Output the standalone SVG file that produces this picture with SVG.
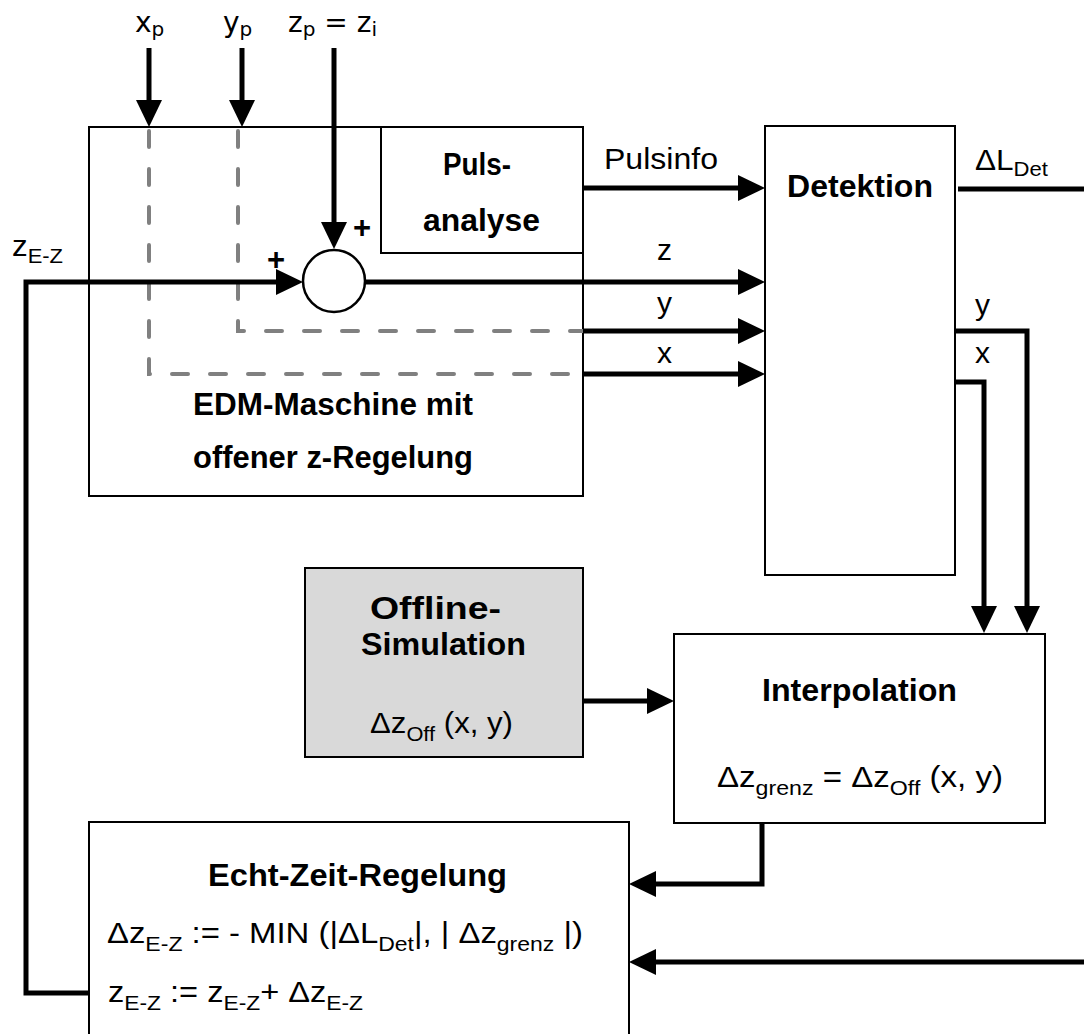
<svg xmlns="http://www.w3.org/2000/svg" width="1084" height="1034" viewBox="0 0 1084 1034">
<style>
.box{fill:#fff;stroke:#000;stroke-width:2}
.grey{fill:#d9d9d9;stroke:#000;stroke-width:2}
.w{fill:none;stroke:#000;stroke-width:5;stroke-linejoin:miter}
.a{marker-end:url(#ah)}
.d{fill:none;stroke:#808080;stroke-width:4;stroke-dasharray:16 22;stroke-linecap:round}
.b{font-family:"Liberation Sans",Arial,sans-serif;font-weight:bold;font-size:31px;fill:#000}
.r{font-family:"Liberation Sans",Arial,sans-serif;font-size:30px;fill:#000}
.t{font-family:"DejaVu Sans",sans-serif;font-size:28px;fill:#000}
</style>
<defs>
<marker id="ah" markerUnits="userSpaceOnUse" markerWidth="28" markerHeight="28" refX="21" refY="13" orient="auto">
<path d="M0,0 L27,13 L0,26 z" fill="#000"/>
</marker>
</defs>
<rect width="1084" height="1034" fill="#fff"/>

<g id="edm">
<rect class="box" x="89" y="127" width="494" height="369"/>
<text class="b" x="193" y="415" textLength="280" lengthAdjust="spacingAndGlyphs">EDM-Maschine mit</text>
<text class="b" x="193" y="468" textLength="280" lengthAdjust="spacingAndGlyphs">offener z-Regelung</text>
</g>
<g id="pulsanalyse">
<rect class="box" x="381" y="127" width="202" height="126"/>
<text class="b" x="443" y="175" textLength="68" lengthAdjust="spacingAndGlyphs">Puls-</text>
<text class="b" x="423" y="231" textLength="117" lengthAdjust="spacingAndGlyphs">analyse</text>
</g>
<g id="sum">
<circle cx="334" cy="281" r="31" fill="#fff" stroke="#000" stroke-width="2.5"/>
<text class="b" x="353" y="238" font-size="30">+</text>
<text class="b" x="267" y="270" font-size="30">+</text>
</g>
<g id="detektion">
<rect class="box" x="765" y="126" width="190" height="449"/>
<text class="b" x="787" y="197" font-size="32" textLength="146" lengthAdjust="spacingAndGlyphs">Detektion</text>
</g>
<g id="offline">
<rect class="grey" x="305" y="568" width="278" height="189"/>
<text class="b" x="370" y="619" textLength="131" lengthAdjust="spacingAndGlyphs">Offline-</text>
<text class="b" x="361" y="655" textLength="165" lengthAdjust="spacingAndGlyphs">Simulation</text>
<text class="r" x="370" y="733" textLength="143" lengthAdjust="spacingAndGlyphs">Δz<tspan font-size="21" dy="8">Off</tspan><tspan dy="-8"> (x, y)</tspan></text>
</g>
<g id="interpolation">
<rect class="box" x="674" y="634" width="371" height="189"/>
<text class="b" x="762" y="701" textLength="195" lengthAdjust="spacingAndGlyphs">Interpolation</text>
<text class="r" x="717" y="787" textLength="286" lengthAdjust="spacingAndGlyphs">Δz<tspan font-size="21" dy="8">grenz</tspan><tspan dy="-8"> =  Δz</tspan><tspan font-size="21" dy="8">Off</tspan><tspan dy="-8"> (x, y)</tspan></text>
</g>
<g id="echtzeit">
<rect class="box" x="89" y="822" width="540" height="240"/>
<text class="b" x="208" y="886" textLength="299" lengthAdjust="spacingAndGlyphs">Echt-Zeit-Regelung</text>
<text class="r" x="107" y="943" textLength="476" lengthAdjust="spacingAndGlyphs">Δz<tspan font-size="21" dy="8">E-Z</tspan><tspan dy="-8"> :=  - MIN (|ΔL</tspan><tspan font-size="21" dy="8">Det</tspan><tspan dy="-8">|, | Δz</tspan><tspan font-size="21" dy="8">grenz</tspan><tspan dy="-8"> |)</tspan></text>
<text class="r" x="108" y="1002" textLength="255" lengthAdjust="spacingAndGlyphs">z<tspan font-size="21" dy="8">E-Z</tspan><tspan dy="-8"> := z</tspan><tspan font-size="21" dy="8">E-Z</tspan><tspan dy="-8">+ Δz</tspan><tspan font-size="21" dy="8">E-Z</tspan></text>
</g>

<g id="connectors">
<path class="d" d="M149,131 V374 H583"/>
<path class="d" d="M238,131 V331 H583"/>
<path class="w a" d="M149,48 V121"/>
<path class="w a" d="M242,48 V121"/>
<path class="w a" d="M334,48 V243"/>
<path class="w a" d="M89,993 H26 V282 H297"/>
<path class="w a" d="M365,282 H759"/>
<path class="w a" d="M583,188 H759"/>
<path class="w a" d="M583,331 H759"/>
<path class="w a" d="M583,374 H759"/>
<path class="w" d="M958,189 H1084"/>
<path class="w a" d="M1084,962 H635"/>
<path class="w a" d="M955,331 H1027 V627"/>
<path class="w a" d="M955,382 H984 V627"/>
<path class="w a" d="M583,701 H668"/>
<path class="w a" d="M762,823 V884 H635"/>
</g>

<g id="labels">
<text class="t" x="135" y="32">x<tspan font-size="20" dy="4">p</tspan></text>
<text class="t" x="223" y="32">y<tspan font-size="20" dy="4">p</tspan></text>
<text class="t" x="288" y="32">z<tspan font-size="20" dy="4">p</tspan><tspan dy="-4"> = z</tspan><tspan font-size="20" dy="4">i</tspan></text>
<text class="r" x="12" y="256" textLength="51" lengthAdjust="spacingAndGlyphs">z<tspan font-size="21" dy="7">E-Z</tspan></text>
<text class="r" x="604" y="169" textLength="114" lengthAdjust="spacingAndGlyphs">Pulsinfo</text>
<text class="r" x="657" y="260">z</text>
<text class="r" x="657" y="313">y</text>
<text class="r" x="657" y="363">x</text>
<text class="r" x="975" y="170" textLength="73" lengthAdjust="spacingAndGlyphs">ΔL<tspan font-size="21" dy="6">Det</tspan></text>
<text class="r" x="975" y="315">y</text>
<text class="r" x="975" y="363">x</text>
</g>
</svg>
